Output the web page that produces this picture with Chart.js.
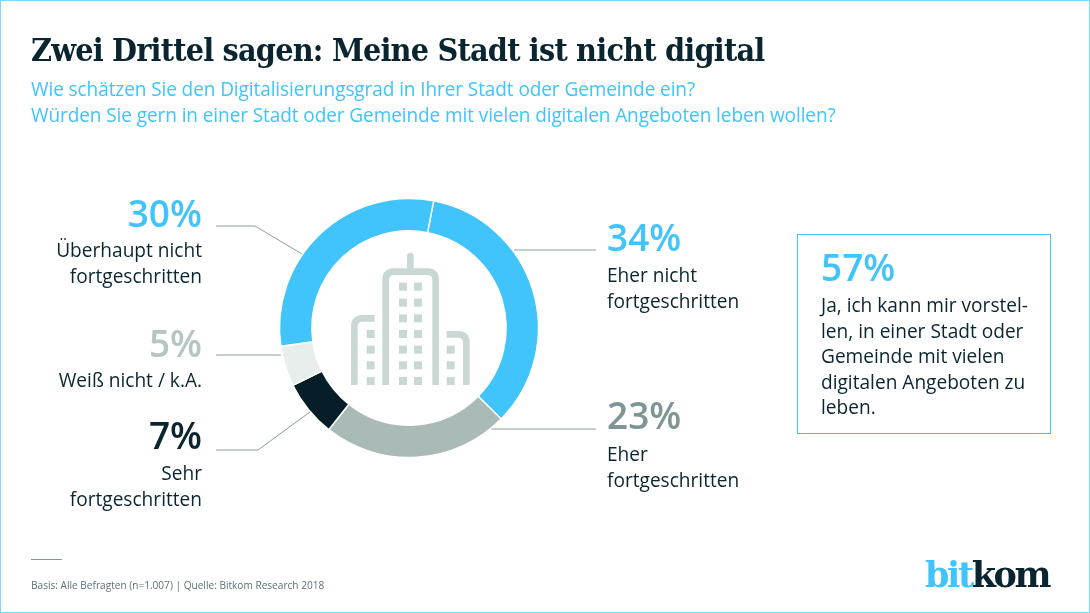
<!DOCTYPE html>
<html lang="de">
<head>
<meta charset="utf-8">
<title>Zwei Drittel sagen: Meine Stadt ist nicht digital</title>
<script src="https://cdn.jsdelivr.net/npm/chart.js@4/dist/chart.umd.min.js"></script>
<style>
html, body { margin: 0; padding: 0; background: #fff; }
#page { position: relative; width: 1090px; height: 613px; overflow: hidden; background: #fff; font-family: "Open Sans", sans-serif; color: #0b2530; }
#frame { position: absolute; left: 0; top: 0; width: 1088px; height: 611px; border: 1px solid #7fd8fc; }
#chart { position: absolute; left: 0; top: 0; }
#icon { position: absolute; left: 260px; top: 180px; width: 300px; height: 300px; }
.t { position: absolute; white-space: nowrap; }
.title { left: 31px; top: 30px; font: bold 32px/40px "DejaVu Serif Condensed", "DejaVu Serif", serif; letter-spacing: -0.8px; }
.sub { left: 31px; font-size: 19.05px; line-height: 26px; color: #41c4fb; letter-spacing: -0.1px; }
.pct { font-weight: 600; font-size: 37px; line-height: 44px; }
.lab { font-size: 19.1px; line-height: 25.5px; }
.r { right: 888px; text-align: right; }
.l { left: 607px; }
#box { position: absolute; left: 797px; top: 234px; width: 252px; height: 198px; border: 1px solid #41c4fb; }
.foot { left: 31px; top: 578px; font-size: 10.1px; line-height: 14px; color: #5f6f73; }
#rule { position: absolute; left: 31px; top: 559px; width: 31px; height: 1px; background: #8a9799; }
.logo { left: 925px; top: 550px; font: bold 35px/50px "DejaVu Serif", serif; letter-spacing: -2.4px; }
</style>
</head>
<body>
<div id="page">
  <div id="frame"></div>
  <canvas id="chart" width="1090" height="613"></canvas>
  <svg id="icon" viewBox="0 0 900 900" fill="none" stroke="#c9d8d5" stroke-width="20"></svg>

  <div class="t title">Zwei Drittel sagen: Meine Stadt ist nicht digital</div>
  <div class="t sub" style="top:76px">Wie schätzen Sie den Digitalisierungsgrad in Ihrer Stadt oder Gemeinde ein?</div>
  <div class="t sub" style="top:102px">Würden Sie gern in einer Stadt oder Gemeinde mit vielen digitalen Angeboten leben wollen?</div>

  <div class="t pct r" style="top:191px;color:#41c4fb">30%</div>
  <div class="t lab r" style="top:238px">Überhaupt nicht<br>fortgeschritten</div>
  <div class="t pct r" style="top:321px;color:#b5c5c2">5%</div>
  <div class="t lab r" style="top:368px">Weiß nicht / k.A.</div>
  <div class="t pct r" style="top:413px;color:#0b2530">7%</div>
  <div class="t lab r" style="top:461px">Sehr<br>fortgeschritten</div>

  <div class="t pct l" style="top:215px;color:#41c4fb">34%</div>
  <div class="t lab l" style="top:263px">Eher nicht<br>fortgeschritten</div>
  <div class="t pct l" style="top:393px;color:#7f9494">23%</div>
  <div class="t lab l" style="top:442px">Eher<br>fortgeschritten</div>

  <div id="box"></div>
  <div class="t pct" style="left:821px;top:245px;color:#41c4fb">57%</div>
  <div class="t lab" style="left:821px;top:293px">Ja, ich kann mir vorstel-<br>len, in einer Stadt oder<br>Gemeinde mit vielen<br>digitalen Angeboten zu<br>leben.</div>

  <div id="rule"></div>
  <div class="t foot">Basis: Alle Befragten (n=1.007) | Quelle: Bitkom Research 2018</div>
  <div class="t logo"><span style="color:#41c4fb">bit</span>kom</div>
</div>
<script>
var categories = ["Eher nicht fortgeschritten", "Eher fortgeschritten", "Sehr fortgeschritten", "Weiß nicht / k.A.", "Überhaupt nicht fortgeschritten"];
var shares = [34, 23, 7, 5, 30];
var sliceColors = ["#41c4fb", "#a9bab7", "#051e27", "#e8eeec", "#41c4fb"];

// leader lines, page pixels
var leaders = [
    [[216, 226], [255, 226], [302, 254]],
    [[216, 355], [281, 355]],
    [[216, 450], [258, 450], [310, 412]],
    [[514, 250], [596, 250]],
    [[491, 429], [596, 429]]
];

var leaderPlugin = {
    id: "leaders",
    beforeDatasetsDraw: function (chart) {
        var ctx = chart.ctx;
        ctx.save();
        ctx.strokeStyle = "#8f9c9c";
        ctx.lineWidth = 1;
        leaders.forEach(function (pts) {
            ctx.beginPath();
            pts.forEach(function (p, i) {
                if (i === 0) ctx.moveTo(p[0], p[1]);
                else ctx.lineTo(p[0], p[1]);
            });
            ctx.stroke();
        });
        ctx.restore();
    }
};

new Chart(document.getElementById("chart").getContext("2d"), {
    type: "doughnut",
    data: {
        labels: categories,
        datasets: [{
            data: shares,
            backgroundColor: sliceColors,
            borderColor: "#ffffff",
            borderWidth: 1.5
        }]
    },
    options: {
        responsive: false,
        animation: false,
        rotation: 11,
        radius: 129.5,
        cutout: "75%",
        layout: { padding: { left: 0, right: 272, top: 43, bottom: 0 } },
        plugins: { legend: { display: false }, tooltip: { enabled: false } }
    },
    plugins: [leaderPlugin]
});

// building icon in the middle of the ring
var towerRows = [308, 356, 403, 450, 497, 544, 591];
var icon = '<path d="M377 615V300Q377 275 402 275H502Q527 275 527 300V615"/>' +
    '<path d="M451 228V270" stroke-linecap="round"/>' +
    '<path d="M283 615V440Q283 415 308 415H344"/>' +
    '<path d="M619 615V488Q619 463 594 463H560"/>';
function win(x, y) {
    return '<rect x="' + x + '" y="' + y + '" width="24" height="24" fill="#c9d8d5" stroke="none"/>';
}
towerRows.forEach(function (y) {
    icon += win(417, y) + win(462, y);
    if (y >= 450) icon += win(320, y);
    if (y >= 497) icon += win(560, y);
});
document.getElementById("icon").innerHTML = icon;
</script>
</body>
</html>
